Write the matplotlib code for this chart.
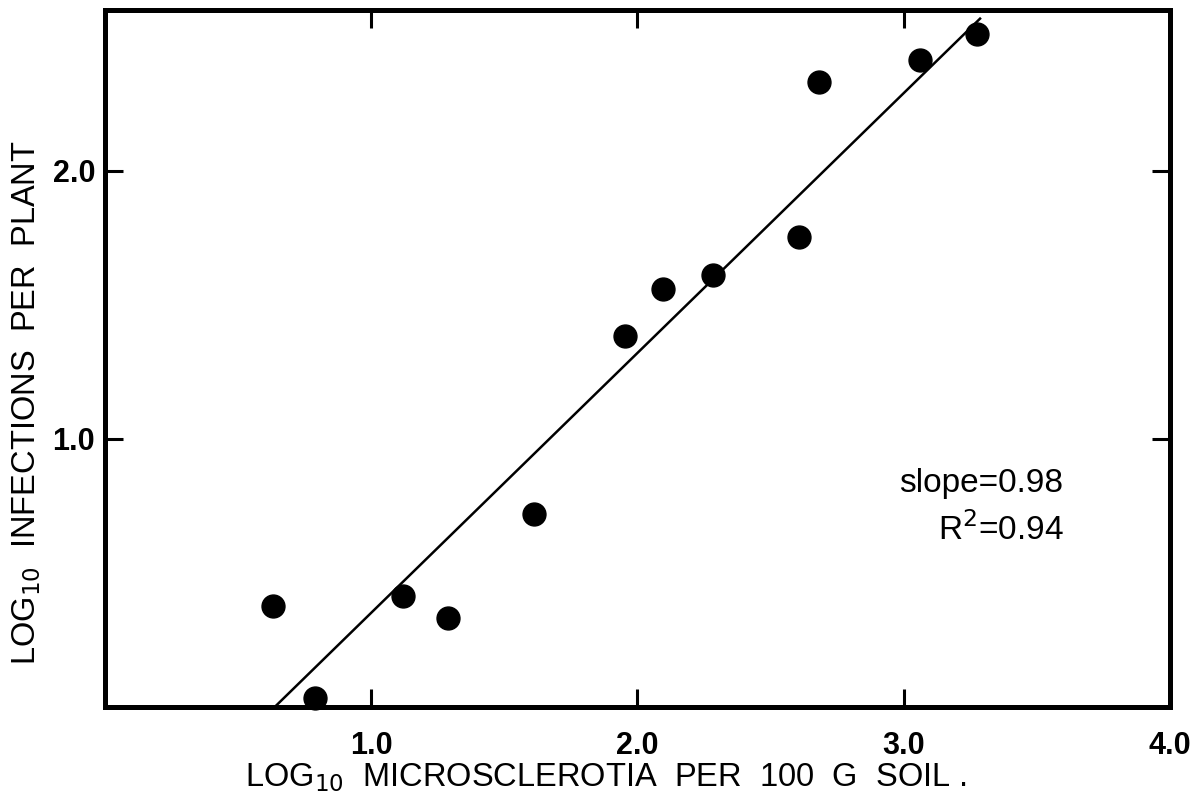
import numpy as np
import matplotlib.pyplot as plt

# log10 microsclerotia per 100 g soil vs log10 infections per plant
log_msc = [0.63, 0.79, 1.12, 1.29, 1.61, 1.955, 2.095, 2.285, 2.605, 2.68, 3.06, 3.275]
log_inf = [0.377, 0.034, 0.414, 0.332, 0.72, 1.384, 1.56, 1.612, 1.754, 2.332, 2.414, 2.511]

# regression line end points
fit_x = [0.637, 3.29]
fit_y = [0.0, 2.57]

x_ticks = [1.0, 2.0, 3.0, 4.0]
x_ticklabels = ['1.0', '2.0', '3.0', '4.0']
y_ticks = [1.0, 2.0]
y_ticklabels = ['1.0', '2.0']

plt.rcParams['font.family'] = ['Liberation Sans', 'DejaVu Sans']

fig = plt.figure(figsize=(11.98, 8.10), dpi=100)
ax = fig.add_axes([0.0876, 0.127, 0.889, 0.861])

ax.plot(fit_x, fit_y, color='black', linewidth=1.8, solid_capstyle='butt')
ax.plot(log_msc, log_inf, 'o', color='black', markersize=16.5, clip_on=False, zorder=3)

ax.set_xlim(0.0, 4.0)
ax.set_ylim(0.0, 2.6)

for sp in ax.spines.values():
    sp.set_linewidth(3.6)
    sp.set_zorder(4)

ax.set_xticks(x_ticks)
ax.set_xticklabels(x_ticklabels, fontsize=22, fontweight='bold')
ax.set_yticks(y_ticks)
ax.set_yticklabels(y_ticklabels, fontsize=22, fontweight='bold')
ax.tick_params(direction='in', length=13, width=2.2, top=True, right=True, pad=7)
ax.tick_params(axis='x', pad=17)

ax.set_xlabel('LOG$_{10}$  MICROSCLEROTIA  PER  100  G  SOIL .', fontsize=23.5)
ax.set_ylabel('LOG$_{10}$  INFECTIONS  PER  PLANT', fontsize=23.5)
ax.xaxis.set_label_coords(0.47, -0.078)
ax.yaxis.set_label_coords(-0.058, 0.437)

ax.text(0.90, 0.321, 'slope=0.98', transform=ax.transAxes, fontsize=24, ha='right', va='center')
ax.text(0.90, 0.255, 'R$^2$=0.94', transform=ax.transAxes, fontsize=24, ha='right', va='center')

fig.savefig('out.png', dpi=100)
